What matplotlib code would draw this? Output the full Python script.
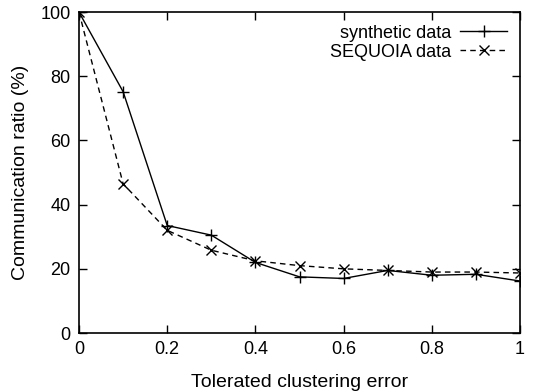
import matplotlib
matplotlib.use("Agg")
import matplotlib.pyplot as plt

plt.rcParams['font.family'] = ['Liberation Sans', 'DejaVu Sans']

errors = [0, 0.1, 0.2, 0.3, 0.4, 0.5, 0.6, 0.7, 0.8, 0.9, 1.0]
synthetic = [100, 75.2, 33.5, 30.5, 22.0, 17.5, 17.0, 19.5, 18.0, 18.3, 16.2]
sequoia = [100, 46.5, 32.0, 25.8, 22.5, 21.0, 20.0, 19.5, 19.0, 19.0, 18.7]

fig = plt.figure(figsize=(5.35, 3.92), dpi=100)
ax = fig.add_axes([0.1477, 0.1505, 0.8243, 0.8185])

ax.plot(errors, synthetic, color='black', lw=1, marker='+', ms=9, mew=1,
        label='synthetic data')
ax.plot(errors, sequoia, color='black', lw=1, ls=(0, (4, 3)), marker='x', ms=7, mew=1,
        label='SEQUOIA data')

ax.set_xlim(0, 1)
ax.set_ylim(0, 100)
ax.set_xticks([0, 0.2, 0.4, 0.6, 0.8, 1])
ax.set_xticklabels(['0', '0.2', '0.4', '0.6', '0.8', '1'])
ax.set_yticks([0, 20, 40, 60, 80, 100])
ax.tick_params(direction='in', top=True, right=True, length=6, width=1,
               labelsize=13, pad=6, colors='black')
for s in ax.spines.values():
    s.set_linewidth(1.2)

ax.set_xlabel('Tolerated clustering error', fontsize=14, labelpad=11)
ax.set_ylabel('Communication ratio (%)', fontsize=14, labelpad=8)

ax.legend(loc='upper right', frameon=False, markerfirst=False, fontsize=13,
          handlelength=2.6, borderaxespad=0.3, labelspacing=0.1,
          handletextpad=0.5)

fig.savefig('out.png', dpi=100)
